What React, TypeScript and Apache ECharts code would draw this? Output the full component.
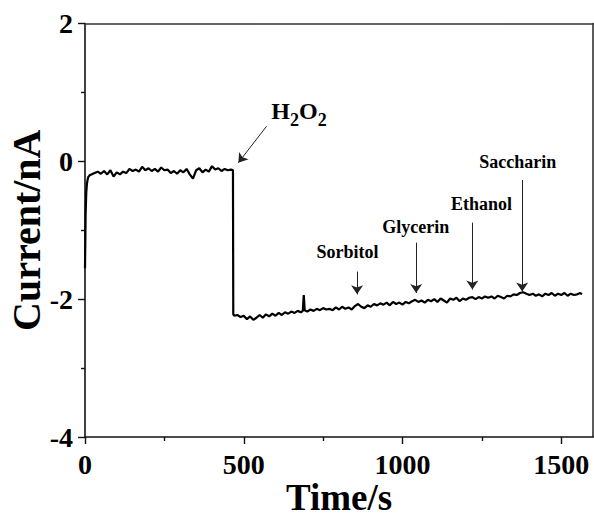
import React, { useEffect, useRef } from "react";
import * as echarts from "echarts";

// Time (s) of each sample
const times: number[] = [
  0, 2, 4, 6, 8, 10, 15, 20, 30, 40, 50, 60, 70, 80, 90, 100, 110, 120, 130, 140,
  150, 160, 170, 180, 190, 200, 210, 220, 230, 240, 250, 260, 270, 280, 290, 300,
  310, 320, 330, 340, 350, 360, 370, 380, 390, 400, 410, 420, 430, 440, 450, 460,
  466, 467, 470, 480, 490, 500, 510, 520, 530, 540, 550, 560, 570, 580, 590, 600,
  610, 620, 630, 640, 650, 660, 670, 680, 686, 689, 692, 700, 710, 720, 730, 740,
  750, 760, 770, 780, 790, 800, 810, 820, 830, 840, 850, 860, 870, 880, 890, 900,
  910, 920, 930, 940, 950, 960, 970, 980, 990, 1000, 1010, 1020, 1030, 1040, 1050,
  1060, 1070, 1080, 1090, 1100, 1110, 1120, 1130, 1140, 1150, 1160, 1170, 1180,
  1190, 1200, 1210, 1220, 1230, 1240, 1250, 1260, 1270, 1280, 1290, 1300, 1310,
  1320, 1330, 1340, 1350, 1360, 1370, 1380, 1390, 1400, 1410, 1420, 1430, 1440,
  1450, 1460, 1470, 1480, 1490, 1500, 1510, 1520, 1530, 1540, 1550, 1560, 1565,
];

// Current (nA)
const current: number[] = [
  -1.55, -0.75, -0.45, -0.33, -0.27, -0.23, -0.2, -0.19, -0.17, -0.15, -0.18, -0.14,
  -0.19, -0.13, -0.22, -0.16, -0.19, -0.15, -0.17, -0.11, -0.14, -0.12, -0.15, -0.08,
  -0.13, -0.1, -0.14, -0.11, -0.15, -0.09, -0.13, -0.12, -0.17, -0.14, -0.18, -0.13,
  -0.16, -0.11, -0.19, -0.25, -0.13, -0.1, -0.16, -0.12, -0.15, -0.07, -0.12, -0.1,
  -0.14, -0.11, -0.13, -0.12, -0.13, -2.22, -2.24, -2.23, -2.26, -2.24, -2.29, -2.25,
  -2.3, -2.27, -2.23, -2.27, -2.22, -2.25, -2.21, -2.24, -2.2, -2.23, -2.19, -2.21,
  -2.18, -2.2, -2.17, -2.19, -2.17, -1.94, -2.16, -2.18, -2.15, -2.17, -2.14, -2.16,
  -2.13, -2.15, -2.14, -2.16, -2.12, -2.15, -2.11, -2.14, -2.12, -2.15, -2.1, -2.07,
  -2.11, -2.13, -2.09, -2.11, -2.07, -2.09, -2.06, -2.08, -2.05, -2.09, -2.04, -2.07,
  -2.05, -2.08, -2.04, -2.06, -2.03, -2.01, -2.04, -2.02, -2.05, -2.01, -2.03, -2.0,
  -2.04, -1.99, -2.02, -2.05, -1.99, -2.01, -1.98, -2.03, -1.99, -2.01, -1.98, -1.97,
  -2.0, -1.97, -1.99, -1.96, -1.98, -1.96, -1.99, -1.95, -1.97, -1.99, -1.95, -1.96,
  -1.93, -1.94, -1.91, -1.9, -1.92, -1.94, -1.92, -1.95, -1.93, -1.96, -1.92, -1.94,
  -1.91, -1.95, -1.92, -1.94, -1.91, -1.95, -1.92, -1.94, -1.93, -1.91, -1.93,
];

// Annotations: label, arrow tail/head and label position (data units)
const annoNames: string[] = ["H2O2", "Sorbitol", "Glycerin", "Ethanol", "Saccharin"];
const annoTailX: number[] = [572, 857, 1043, 1220, 1377];
const annoTailY: number[] = [0.51, -1.6, -1.18, -0.89, -0.27];
const annoHeadX: number[] = [483, 857, 1043, 1220, 1377];
const annoHeadY: number[] = [-0.02, -1.93, -1.91, -1.86, -1.89];
const annoLabelX: number[] = [674, 827, 1042, 1249, 1363];
const annoLabelY: number[] = [0.68, -1.31, -0.95, -0.62, -0.01];

const xMajorTicks: number[] = [0, 500, 1000, 1500];
const xMinorTicks: number[] = [250, 750, 1250];

const FONT = "'Liberation Serif', 'Times New Roman', serif";

export default function App() {
  const ref = useRef<HTMLDivElement>(null);
  useEffect(() => {
    if (!ref.current) return;
    const chart = echarts.init(ref.current, undefined, { renderer: "svg" });
    const data = times.map((t, i) => [t, current[i]]);
    const markLineData = annoNames.map((_, i) => [
      { coord: [annoTailX[i], annoTailY[i]], symbol: "none" },
      { coord: [annoHeadX[i], annoHeadY[i]], symbol: "arrow" },
    ]);
    const markPointData = annoNames.map((n, i) => ({
      name: n,
      coord: [annoLabelX[i], annoLabelY[i]],
      label: n === "H2O2"
        ? { formatter: "{a|H}{b|2}{a|O}{b|2}" }
        : { formatter: n },
    }));
    const plain = (v: number) => String(v);
    chart.setOption({
      animation: false,
      backgroundColor: "#fff",
      grid: { left: 85, right: 1, top: 23.5, bottom: 81, outerBoundsMode: "none", containLabel: false },
      xAxis: [
        {
          type: "value",
          position: "bottom",
          min: 0,
          max: 1600,
          name: "Time/s",
          nameLocation: "middle",
          nameGap: 45,
          nameMoveOverlap: false,
          nameTextStyle: { fontFamily: FONT, fontWeight: "bold", fontSize: 37, lineHeight: 30, color: "#000" },
          axisLine: { show: true, onZero: false, lineStyle: { color: "#111", width: 1.6 } },
          axisTick: { show: true, inside: false, length: 7, customValues: xMajorTicks, lineStyle: { color: "#111", width: 1.4 } },
          axisLabel: { show: true, customValues: xMajorTicks, formatter: plain, margin: 13, fontFamily: FONT, fontWeight: "bold", fontSize: 28, color: "#000" },
          splitLine: { show: false },
        },
        {
          type: "value",
          position: "bottom",
          min: 0,
          max: 1600,
          axisLine: { show: false, onZero: false },
          axisTick: { show: true, inside: false, length: 4, customValues: xMinorTicks, lineStyle: { color: "#111", width: 1.4 } },
          axisLabel: { show: false },
          splitLine: { show: false },
        },
        {
          type: "value",
          position: "top",
          min: 0,
          max: 1600,
          axisLine: { show: true, onZero: false, lineStyle: { color: "#333", width: 1.6 } },
          axisTick: { show: false },
          axisLabel: { show: false },
          splitLine: { show: false },
        },
      ],
      yAxis: [
        {
          type: "value",
          position: "left",
          min: -4,
          max: 2,
          interval: 2,
          name: "Current/nA",
          nameLocation: "middle",
          nameGap: 39,
          nameRotate: 90,
          nameMoveOverlap: false,
          nameTextStyle: { fontFamily: FONT, fontWeight: "bold", fontSize: 40, color: "#000" },
          axisLine: { show: true, onZero: false, lineStyle: { color: "#111", width: 1.6 } },
          axisTick: { show: true, inside: false, length: 7, lineStyle: { color: "#111", width: 1.4 } },
          minorTick: { show: true, splitNumber: 2, length: 4, lineStyle: { color: "#111", width: 1.4 } },
          axisLabel: { margin: 12, formatter: plain, fontFamily: FONT, fontWeight: "bold", fontSize: 28, color: "#000" },
          splitLine: { show: false },
          minorSplitLine: { show: false },
        },
        {
          type: "value",
          position: "right",
          min: -4,
          max: 2,
          axisLine: { show: true, onZero: false, lineStyle: { color: "#333", width: 1.6 } },
          axisTick: { show: false },
          axisLabel: { show: false },
          splitLine: { show: false },
        },
      ],
      series: [
        {
          type: "line",
          xAxisIndex: 0,
          yAxisIndex: 0,
          data,
          showSymbol: false,
          symbol: "none",
          lineStyle: { color: "#000", width: 2.2 },
          markLine: {
            silent: true,
            symbolSize: 9,
            label: { show: false },
            lineStyle: { color: "#222", width: 1, type: "solid" },
            data: markLineData,
          },
          markPoint: {
            silent: true,
            symbol: "circle",
            symbolSize: 0,
            label: {
              show: true,
              position: "inside",
              fontFamily: FONT,
              fontWeight: "bold",
              fontSize: 18,
              color: "#000",
              rich: {
                a: { fontFamily: FONT, fontWeight: "bold", fontSize: 24, color: "#000", lineHeight: 30, verticalAlign: "top" },
                b: { fontFamily: FONT, fontWeight: "bold", fontSize: 18, color: "#000", lineHeight: 30, verticalAlign: "bottom", padding: [10, 0, 0, 0] },
              },
            },
            data: markPointData,
          },
        },
      ],
    });
    return () => chart.dispose();
  }, []);
  return <div ref={ref} style={{ width: 594, height: 518, position: "absolute", left: 0, top: 0 }} />;
}
